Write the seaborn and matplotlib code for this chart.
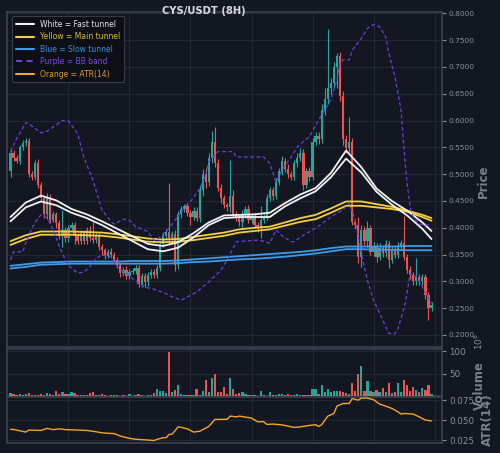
import numpy as np
import seaborn as sns
import matplotlib
matplotlib.use("Agg")
import matplotlib.pyplot as plt
from matplotlib.lines import Line2D
from matplotlib.ticker import FormatStrFormatter

# ---- candles (8H) ----
first_open = 0.505
closes = [
    0.540, 0.530, 0.525, 0.550, 0.558, 0.562, 0.500, 0.495, 0.520, 0.480,
    0.455, 0.425, 0.455, 0.415, 0.425, 0.408, 0.385, 0.395, 0.380, 0.400,
    0.405, 0.385, 0.375, 0.390, 0.375, 0.395, 0.380, 0.378, 0.385, 0.365,
    0.358, 0.348, 0.355, 0.350, 0.340, 0.330, 0.315, 0.322, 0.310, 0.318,
    0.320, 0.325, 0.295, 0.310, 0.298, 0.312, 0.318, 0.312, 0.325, 0.370,
    0.385, 0.392, 0.380, 0.388, 0.330, 0.425, 0.435, 0.440, 0.428, 0.420,
    0.432, 0.418, 0.470, 0.500, 0.485, 0.530, 0.560, 0.520, 0.475, 0.455,
    0.442, 0.438, 0.460, 0.425, 0.418, 0.410, 0.425, 0.435, 0.415, 0.422,
    0.405, 0.400, 0.415, 0.420, 0.455, 0.470, 0.460, 0.485, 0.505, 0.525,
    0.510, 0.500, 0.495, 0.520, 0.530, 0.540, 0.480, 0.505, 0.495, 0.560,
    0.572, 0.565, 0.620, 0.640, 0.660, 0.670, 0.700, 0.720, 0.645, 0.565,
    0.548, 0.560, 0.410, 0.405, 0.345, 0.395, 0.375, 0.400, 0.355, 0.365,
    0.345, 0.362, 0.352, 0.370, 0.340, 0.360, 0.350, 0.365, 0.372, 0.345,
    0.322, 0.312, 0.300, 0.308, 0.300, 0.308, 0.275, 0.250, 0.256,
]
upper_wick = [
    0.008, 0.005, 0.006, 0.005, 0.006, 0.005, 0.005, 0.006, 0.006, 0.008,
    0.006, 0.005, 0.010, 0.008, 0.006, 0.005, 0.006, 0.038, 0.006, 0.005,
    0.006, 0.005, 0.005, 0.006, 0.005, 0.006, 0.008, 0.030, 0.005, 0.006,
    0.005, 0.005, 0.006, 0.008, 0.005, 0.006, 0.005, 0.005, 0.006, 0.005,
    0.005, 0.006, 0.005, 0.006, 0.005, 0.005, 0.006, 0.005, 0.006, 0.006,
    0.008, 0.006, 0.091, 0.006, 0.008, 0.006, 0.006, 0.005, 0.006, 0.005,
    0.006, 0.006, 0.010, 0.010, 0.012, 0.010, 0.020, 0.028, 0.008, 0.006,
    0.006, 0.005, 0.066, 0.010, 0.006, 0.006, 0.008, 0.006, 0.008, 0.005,
    0.006, 0.006, 0.025, 0.006, 0.008, 0.006, 0.006, 0.008, 0.006, 0.008,
    0.006, 0.008, 0.006, 0.006, 0.010, 0.008, 0.006, 0.006, 0.008, 0.008,
    0.006, 0.006, 0.010, 0.020, 0.110, 0.010, 0.010, 0.006, 0.008, 0.010,
    0.008, 0.047, 0.008, 0.006, 0.015, 0.010, 0.008, 0.012, 0.006, 0.008,
    0.006, 0.010, 0.006, 0.008, 0.006, 0.006, 0.006, 0.008, 0.006, 0.050,
    0.006, 0.006, 0.006, 0.035, 0.006, 0.006, 0.006, 0.006, 0.006,
]
lower_wick = [
    0.010, 0.006, 0.005, 0.006, 0.005, 0.006, 0.006, 0.005, 0.006, 0.006,
    0.006, 0.006, 0.008, 0.006, 0.005, 0.008, 0.006, 0.020, 0.006, 0.006,
    0.005, 0.015, 0.006, 0.005, 0.006, 0.006, 0.005, 0.006, 0.006, 0.006,
    0.008, 0.006, 0.005, 0.006, 0.006, 0.005, 0.006, 0.005, 0.006, 0.006,
    0.005, 0.006, 0.005, 0.006, 0.008, 0.006, 0.005, 0.006, 0.006, 0.006,
    0.006, 0.006, 0.010, 0.006, 0.010, 0.006, 0.006, 0.005, 0.006, 0.015,
    0.006, 0.006, 0.008, 0.010, 0.010, 0.008, 0.010, 0.006, 0.006, 0.008,
    0.006, 0.006, 0.008, 0.006, 0.006, 0.006, 0.010, 0.006, 0.006, 0.006,
    0.006, 0.008, 0.020, 0.006, 0.006, 0.006, 0.008, 0.006, 0.006, 0.006,
    0.006, 0.008, 0.006, 0.006, 0.006, 0.006, 0.010, 0.006, 0.008, 0.006,
    0.006, 0.008, 0.006, 0.010, 0.010, 0.010, 0.010, 0.040, 0.008, 0.010,
    0.008, 0.006, 0.005, 0.008, 0.010, 0.018, 0.008, 0.010, 0.006, 0.008,
    0.008, 0.006, 0.006, 0.006, 0.015, 0.006, 0.006, 0.006, 0.006, 0.006,
    0.006, 0.008, 0.006, 0.006, 0.006, 0.006, 0.008, 0.022, 0.006,
]
volume = [
    7.6, 5, 2, 5, 3, 5, 7, 3, 3, 3,
    4, 3, 7, 4, 3, 11, 4, 10, 4, 4,
    9, 6, 3, 2, 3, 2, 6, 9, 2, 2,
    4, 2, 1, 2, 2, 2, 1, 2, 1, 4,
    1, 2, 4, 2, 1, 3, 2, 7, 16, 11,
    11, 6, 97, 8, 14, 25, 4, 3, 3, 2,
    2, 16, 3, 11, 35, 9, 41, 50, 8, 9,
    20, 4, 39, 15, 5, 7, 10, 4, 3, 2,
    2, 1, 12, 2, 1, 9, 2, 3, 5, 4,
    3, 5, 3, 2, 5, 2, 3, 2, 2, 15,
    15, 5, 25, 9, 16, 10, 12, 11, 11, 9,
    6, 4, 30, 12, 48, 66, 11, 34, 11, 8,
    14, 9, 17, 9, 29, 7, 9, 28, 10, 35,
    24, 11, 20, 14, 9, 17, 14, 25, 5,
]

# ---- tunnels (sampled every 5 candles) ----
tunnel_idx = [0, 5, 10, 15, 20, 25, 30, 35, 40, 45, 50, 55, 60, 65, 70,
              75, 80, 85, 90, 95, 100, 105, 110, 115, 120, 125, 130, 135, 138]
fast_a = [0.420, 0.447, 0.460, 0.451, 0.435, 0.425, 0.412, 0.398, 0.384, 0.370,
          0.366, 0.373, 0.390, 0.410, 0.423, 0.424, 0.425, 0.428, 0.446, 0.462,
          0.474, 0.502, 0.544, 0.513, 0.473, 0.450, 0.432, 0.410, 0.394]
fast_b = [0.412, 0.438, 0.449, 0.442, 0.428, 0.418, 0.405, 0.390, 0.375, 0.360,
          0.356, 0.363, 0.382, 0.405, 0.418, 0.420, 0.420, 0.420, 0.440, 0.455,
          0.468, 0.494, 0.529, 0.503, 0.467, 0.443, 0.423, 0.398, 0.379]
main_a = [0.375, 0.386, 0.393, 0.393, 0.393, 0.392, 0.391, 0.388, 0.384, 0.380,
          0.378, 0.379, 0.383, 0.387, 0.391, 0.397, 0.400, 0.402, 0.410, 0.418,
          0.424, 0.436, 0.449, 0.449, 0.444, 0.439, 0.432, 0.424, 0.418]
main_b = [0.368, 0.379, 0.387, 0.387, 0.387, 0.386, 0.385, 0.382, 0.378, 0.374,
          0.373, 0.374, 0.377, 0.381, 0.385, 0.391, 0.394, 0.397, 0.404, 0.411,
          0.416, 0.428, 0.441, 0.441, 0.438, 0.435, 0.430, 0.420, 0.413]
slow_a = [0.329, 0.332, 0.335, 0.336, 0.337, 0.337, 0.337, 0.337, 0.338, 0.338,
          0.338, 0.339, 0.341, 0.343, 0.345, 0.347, 0.349, 0.351, 0.353, 0.355,
          0.358, 0.362, 0.365, 0.365, 0.365, 0.365, 0.366, 0.366, 0.366]
slow_b = [0.324, 0.327, 0.331, 0.332, 0.333, 0.333, 0.333, 0.333, 0.333, 0.333,
          0.333, 0.334, 0.336, 0.337, 0.339, 0.341, 0.342, 0.344, 0.346, 0.349,
          0.352, 0.356, 0.360, 0.360, 0.359, 0.359, 0.358, 0.358, 0.358]

# ---- Bollinger band ----
bb_up_idx = [0, 2, 3, 5, 6, 10, 12, 14, 17, 19, 22, 24, 27, 30, 33, 34, 37, 39,
             41, 45, 47, 48, 49, 52, 56, 57, 59, 62, 64, 65, 68, 73, 74, 83, 85,
             87, 88, 89, 92, 94, 98, 101, 105, 107, 108, 109, 111, 112, 115, 117,
             119, 121, 123, 124, 126, 128, 129, 130, 131, 132, 134, 136, 138]
bb_up = [0.542, 0.566, 0.576, 0.596, 0.594, 0.577, 0.580, 0.588, 0.600, 0.599,
         0.576, 0.532, 0.489, 0.433, 0.411, 0.407, 0.416, 0.414, 0.402, 0.393,
         0.377, 0.377, 0.383, 0.399, 0.430, 0.439, 0.449, 0.473, 0.498, 0.523,
         0.542, 0.542, 0.532, 0.532, 0.520, 0.486, 0.495, 0.508, 0.532, 0.551,
         0.570, 0.601, 0.638, 0.676, 0.707, 0.713, 0.713, 0.731, 0.753, 0.772,
         0.779, 0.775, 0.756, 0.725, 0.682, 0.620, 0.545, 0.483, 0.439, 0.420,
         0.407, 0.405, 0.406]
bb_lo_idx = [0, 1, 4, 5, 7, 9, 10, 12, 14, 16, 18, 20, 22, 24, 26, 28, 30, 33,
             35, 38, 40, 44, 46, 50, 53, 56, 58, 61, 63, 65, 69, 71, 73, 74, 79,
             81, 83, 85, 87, 89, 92, 93, 96, 99, 102, 105, 108, 110, 111, 113,
             115, 117, 119, 122, 124, 126, 127, 129, 130, 131, 133, 135, 137, 138]
bb_lo = [0.340, 0.355, 0.355, 0.371, 0.399, 0.418, 0.424, 0.418, 0.396, 0.365,
         0.340, 0.324, 0.316, 0.317, 0.327, 0.343, 0.349, 0.346, 0.327, 0.315,
         0.305, 0.289, 0.287, 0.280, 0.271, 0.265, 0.271, 0.280, 0.290, 0.299,
         0.321, 0.340, 0.362, 0.374, 0.376, 0.377, 0.375, 0.371, 0.396, 0.385,
         0.374, 0.374, 0.386, 0.396, 0.407, 0.420, 0.430, 0.439, 0.446, 0.414,
         0.352, 0.302, 0.265, 0.228, 0.203, 0.202, 0.212, 0.250, 0.278, 0.315,
         0.309, 0.290, 0.268, 0.259]

# ---- ATR(14) ----
atr_idx = [0, 1, 5, 6, 10, 12, 14, 16, 18, 22, 25, 28, 30, 34, 36, 39, 41, 45,
           47, 48, 50, 51, 52, 53, 55, 58, 60, 62, 64, 65, 67, 71, 72, 74, 75,
           79, 81, 83, 84, 86, 89, 93, 95, 98, 100, 101, 102, 104, 106, 107,
           109, 111, 112, 114, 115, 117, 119, 121, 123, 125, 127, 128, 129,
           132, 134, 136, 138]
atr = [0.0383, 0.0383, 0.0350, 0.0375, 0.0370, 0.0396, 0.0380, 0.0390, 0.0380,
       0.0375, 0.0370, 0.0354, 0.0340, 0.0330, 0.0300, 0.0271, 0.0260, 0.0250,
       0.0244, 0.0258, 0.0279, 0.0279, 0.0320, 0.0325, 0.0417, 0.0390, 0.0350,
       0.0360, 0.0400, 0.0420, 0.0508, 0.0510, 0.0550, 0.0540, 0.0550, 0.0525,
       0.0479, 0.0480, 0.0446, 0.0450, 0.0440, 0.0408, 0.0415, 0.0433, 0.0442,
       0.0420, 0.0442, 0.0550, 0.0583, 0.0675, 0.0708, 0.0708, 0.0770, 0.0750,
       0.0775, 0.0775, 0.0755, 0.0700, 0.0675, 0.0646, 0.0604, 0.0575, 0.0583,
       0.0575, 0.0540, 0.0500, 0.0490]

price_ticks = [0.20, 0.25, 0.30, 0.35, 0.40, 0.45, 0.50, 0.55, 0.60, 0.65, 0.70, 0.75, 0.80]
vol_ticks = [50, 100]
atr_ticks = [0.025, 0.050, 0.075]
grid_x = [19, 39, 59, 79, 99, 119, 139]

BG = "#131722"
GRID = "#232835"
SPINE = "#3c414d"
TXT = "#8a8e98"
UP, DN = "#26a69a", "#ef5350"
WHITE, YELLOW, BLUE = "#f2f2f2", "#f5cf3f", "#3d9be9"
PURPLE, ORANGE = "#6a3fe0", "#f5a623"

sns.set_theme(style="dark", rc={"axes.facecolor": BG, "figure.facecolor": BG,
                                "axes.edgecolor": SPINE, "text.color": TXT,
                                "ytick.color": TXT, "xtick.color": TXT})
plt.rcParams["font.family"] = ["DejaVu Sans"]

closes = np.array(closes)
opens = np.r_[first_open, closes[:-1]]
highs = np.maximum(opens, closes) + np.array(upper_wick)
lows = np.minimum(opens, closes) - np.array(lower_wick)
idx = np.arange(len(closes))
cols = np.where(closes >= opens, UP, DN)

fig = plt.figure(figsize=(5, 4.53), dpi=100)
ax = fig.add_axes([0.014, 0.234, 0.87, 0.7395])
axv = fig.add_axes([0.014, 0.1258, 0.87, 0.1038], sharex=ax)
axa = fig.add_axes([0.014, 0.0214, 0.87, 0.102], sharex=ax)

# candles
ax.vlines(idx, lows, highs, colors=cols, lw=0.8, zorder=2)
body = np.maximum(np.abs(closes - opens), 0.002)
ax.bar(idx, body, bottom=np.minimum(opens, closes), width=0.75, color=cols,
       linewidth=0, zorder=3)

# tunnels + BB
for vals, c in [(slow_a, BLUE), (slow_b, BLUE), (main_a, YELLOW), (main_b, YELLOW),
                (fast_a, WHITE), (fast_b, WHITE)]:
    sns.lineplot(x=tunnel_idx, y=vals, ax=ax, color=c, lw=1.3, zorder=4)
sns.lineplot(x=bb_up_idx, y=bb_up, ax=ax, color=PURPLE, lw=0.9, dashes=False,
             linestyle=(0, (3, 2)), zorder=4)
sns.lineplot(x=bb_lo_idx, y=bb_lo, ax=ax, color=PURPLE, lw=0.9, dashes=False,
             linestyle=(0, (3, 2)), zorder=4)

# volume
axv.bar(idx, volume, width=0.75, color=cols, linewidth=0, zorder=3)

# ATR
sns.lineplot(x=atr_idx, y=atr, ax=axa, color=ORANGE, lw=1.0, zorder=3)

ax.set_xlim(-1.15, 141.44)
ax.set_ylim(0.1776, 0.8024)
axv.set_ylim(0, 104.5)
axa.set_ylim(0.0209, 0.0788)

for a in (ax, axv, axa):
    a.set_facecolor(BG)
    a.set_xticks(grid_x)
    a.tick_params(axis="x", length=0, labelbottom=False)
    a.yaxis.tick_right()
    a.tick_params(axis="y", colors=TXT, length=3, width=0.8, pad=2)
    a.grid(True, color=GRID, lw=0.7)
    a.set_axisbelow(True)
    a.set_xlabel("")
    a.set_ylabel("")
    for s in a.spines.values():
        s.set_color(SPINE)
        s.set_linewidth(1.2)

ax.set_yticks(price_ticks)
ax.yaxis.set_major_formatter(FormatStrFormatter("%.4f"))
ax.tick_params(axis="y", labelsize=5.3)
axv.set_yticks(vol_ticks)
axv.tick_params(axis="y", labelsize=6.3)
axa.set_yticks(atr_ticks)
axa.yaxis.set_major_formatter(FormatStrFormatter("%.3f"))
axa.tick_params(axis="y", labelsize=6.3)

W, H = 500, 453
fig.text(203.5 / W, 1 - 11.5 / H, "CYS/USDT (8H)", ha="center", va="center",
         fontsize=7.2, fontweight="bold", color="#d6d9e0")
fig.text(483 / W, 1 - 181 / H, "Price", rotation=90, ha="center", va="center",
         fontsize=8.5, fontweight="bold", color="#7b7f89")
fig.text(479 / W, 1 - 386 / H, "Volume", rotation=90, ha="center", va="center",
         fontsize=8.5, fontweight="bold", color="#7b7f89")
fig.text(487 / W, 1 - 420 / H, "ATR(14)", rotation=90, ha="center", va="center",
         fontsize=8.5, fontweight="bold", color="#7b7f89")
fig.text(479 / W, 1 - 342 / H, r"$10^8$", rotation=90, ha="center", va="center",
         fontsize=6.3, color=TXT)

handles = [Line2D([], [], color=WHITE, lw=1.5),
           Line2D([], [], color=YELLOW, lw=1.5),
           Line2D([], [], color=BLUE, lw=1.5),
           Line2D([], [], color=PURPLE, lw=1.5, linestyle=(0, (3, 2))),
           Line2D([], [], color=ORANGE, lw=1.5)]
labels = ["White = Fast tunnel", "Yellow = Main tunnel", "Blue = Slow tunnel",
          "Purple = BB band", "Orange = ATR(14)"]
leg = ax.legend(handles, labels, loc="upper left", bbox_to_anchor=(0.0115, 0.988),
                borderaxespad=0, fontsize=5.5, frameon=True, facecolor="#0c0f15",
                edgecolor="#363b46", framealpha=1, handlelength=2.4,
                labelspacing=0.45, borderpad=0.5,
                labelcolor=["#e6e6e6", "#d8b93a", "#3d8fd8", "#7a48e2", "#e3982a"])
leg.get_frame().set_linewidth(0.8)

fig.savefig("out.png", dpi=100, facecolor=BG)
